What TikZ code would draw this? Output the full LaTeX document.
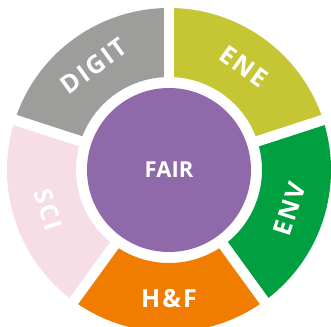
\documentclass[tikz,border=0pt]{standalone}
\usepackage{fontspec}
\setmainfont{Open Sans}
\newfontfamily\segfont[LetterSpace=8]{Open Sans}
\usetikzlibrary{calc}
\definecolor{cgray}{HTML}{9D9D9C}
\definecolor{cene}{HTML}{C6C635}
\definecolor{cenv}{HTML}{009F3F}
\definecolor{chf}{HTML}{F07D00}
\definecolor{csci}{HTML}{F7DDE6}
\definecolor{cfair}{HTML}{9069AA}
\begin{document}
\begin{tikzpicture}[x=1pt,y=1pt,
  seglabel/.style={text=white,font=\segfont\bfseries\fontsize{25}{25}\selectfont,inner sep=0pt},
  gapline/.style={white,line width=10.5pt}]
\useasboundingbox (0,0) rectangle (331,326);
\clip (0,0) rectangle (331,326);
\coordinate (c) at (169,156);
\def\Ro{162}\def\Ri{93}
\foreach \a/\b/\col in {90/162/cgray,18/90/cene,-54/18/cenv,-126/-54/chf,162/234/csci}{
  \fill[\col] ($(c)+(\a:\Ro)$) arc[start angle=\a,end angle=\b,radius=\Ro]
     -- ($(c)+(\b:\Ri)$) arc[start angle=\b,end angle=\a,radius=\Ri] -- cycle;
}
\foreach \a in {90,18,-54,-126,162}{
  \draw[gapline] (c) -- ($(c)+(\a:175)$);
}
\node[circle,fill=cfair,minimum size=164pt,inner sep=0pt,text=white,
  font=\bfseries\fontsize{22}{22}\selectfont] (fair) at (c) {FAIR};
\node[seglabel,rotate=36] (digit) at ($(c)+(126:128)$) {DIGIT};
\node[seglabel,rotate=-36] (ene) at ($(c)+(54:128)$) {ENE};
\node[seglabel,rotate=72] (env) at ($(c)+(-18:127)$) {ENV};
\node[seglabel] (hf) at ($(c)+(-90:129)$) {H\&F};
\node[seglabel,rotate=-72] (sci) at ($(c)+(198:127)$) {SCI};
\end{tikzpicture}
\end{document}
